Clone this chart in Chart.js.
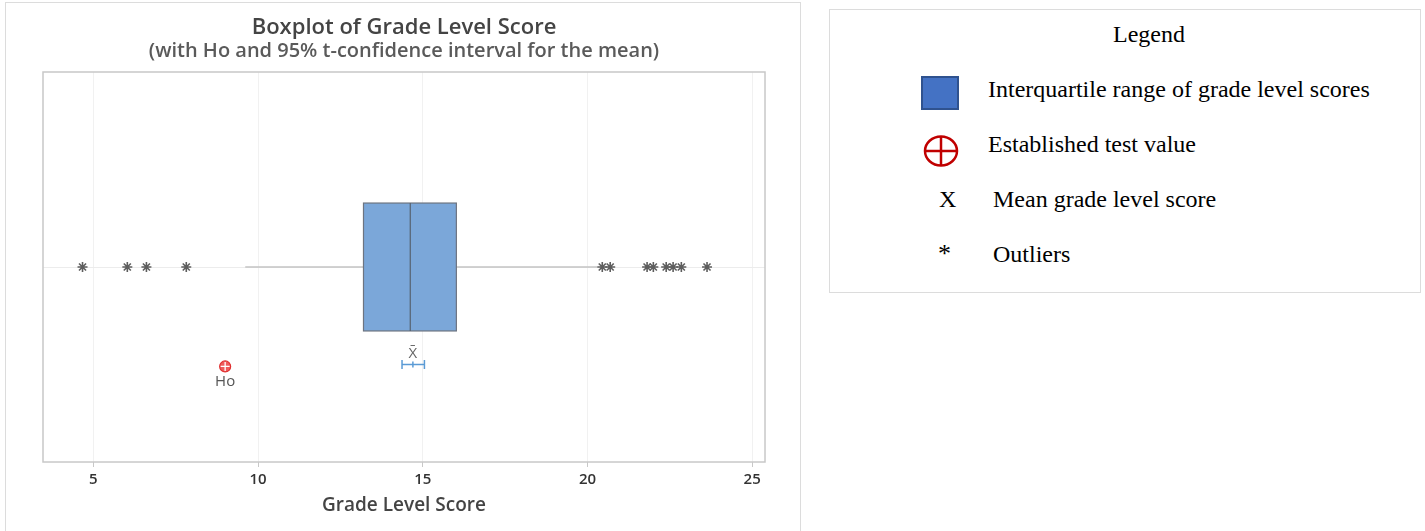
<!DOCTYPE html>
<html>
<head>
<meta charset="utf-8">
<script src="https://cdn.jsdelivr.net/npm/chart.js@4.4.1/dist/chart.umd.min.js"></script>
<style>
  html, body { margin: 0; padding: 0; background: #fff; }
  body { width: 1425px; height: 531px; position: relative; overflow: hidden; }
  #panel { position: absolute; left: 5px; top: 2px; width: 796px; height: 560px; border: 1px solid #dcdcdc; box-sizing: border-box; }
  #wrap { position: absolute; left: 0; top: 0; width: 800px; height: 531px; }
  #legend { position: absolute; left: 829px; top: 9px; width: 592px; height: 284px; border: 1px solid #dcdcdc; box-sizing: border-box;
            font-family: "Liberation Serif", "Times New Roman", serif; font-size: 24px; color: #000; }
  #legend .t { position: absolute; white-space: nowrap; line-height: 28px; }
  #legend svg { position: absolute; }
</style>
</head>
<body>
<div id="panel"></div>
<div id="wrap"><canvas id="c" width="800" height="531"></canvas></div>
<div id="legend">
  <div class="t" style="left:283px; top:10px;">Legend</div>
  <svg style="left:91px; top:66px;" width="38" height="34"><rect x="1" y="1" width="36" height="32" fill="#4472c4" stroke="#2f528f" stroke-width="2"/></svg>
  <div class="t" style="left:158px; top:65px;">Interquartile range of grade level scores</div>
  <svg style="left:93px; top:125px;" width="36" height="32"><ellipse cx="18" cy="16" rx="16" ry="14.5" fill="none" stroke="#c00000" stroke-width="2.5"/><line x1="2" y1="16" x2="34" y2="16" stroke="#c00000" stroke-width="2.5"/><line x1="18" y1="1.5" x2="18" y2="30.5" stroke="#c00000" stroke-width="2.5"/></svg>
  <div class="t" style="left:158px; top:120px;">Established test value</div>
  <div class="t" style="left:109px; top:175px;">X</div>
  <div class="t" style="left:163px; top:175px;">Mean grade level score</div>
  <div class="t" style="left:108px; top:230px; font-size:26px;">*</div>
  <div class="t" style="left:163px; top:230px;">Outliers</div>
</div>
<script>
// Five-number summary: lower whisker end, Q1, median, Q3, upper whisker end
const boxStats = [9.61, 13.2, 14.62, 16.02, 20.3];
// Observations beyond the whiskers
const outliers = [4.67, 6.03, 6.61, 7.82, 20.45, 20.69, 21.81, 22.0, 22.39, 22.6, 22.85, 23.63];
// 95% t-confidence interval for the mean: lower, mean, upper
const meanCI = [14.37, 14.70, 15.05];
// Hypothesised mean (Ho)
const testValue = [9.0];
// X-axis tick labels
const tickValues = [5, 10, 15, 20, 25];

// vertical placement of the elements (hidden y scale runs 0..10)
const BOX_ROW = 5, BOX_HALF = 1.64, CI_ROW = 2.5, HO_ROW = 2.45;

const font = '"Open Sans", "DejaVu Sans", sans-serif';

const boxPlugin = {
  id: 'boxDraw',
  beforeDatasetsDraw(chart) {
    const { ctx, scales: { x, y } } = chart;
    const [lo, q1, med, q3, hi] = boxStats;
    const yc = y.getPixelForValue(BOX_ROW);
    const yt = y.getPixelForValue(BOX_ROW + BOX_HALF);
    const yb = y.getPixelForValue(BOX_ROW - BOX_HALF);
    ctx.save();
    // whiskers
    ctx.strokeStyle = '#c4c4c4';
    ctx.lineWidth = 1.5;
    ctx.beginPath();
    ctx.moveTo(x.getPixelForValue(lo), yc); ctx.lineTo(x.getPixelForValue(q1), yc);
    ctx.moveTo(x.getPixelForValue(q3), yc); ctx.lineTo(x.getPixelForValue(hi), yc);
    ctx.stroke();
    // interquartile box
    const xl = x.getPixelForValue(q1), xr = x.getPixelForValue(q3);
    ctx.fillStyle = '#7ba7d9';
    ctx.fillRect(xl, yt, xr - xl, yb - yt);
    ctx.strokeStyle = '#6d7480';
    ctx.lineWidth = 1.2;
    ctx.strokeRect(xl, yt, xr - xl, yb - yt);
    // median
    const xm = x.getPixelForValue(med);
    ctx.strokeStyle = '#56626f';
    ctx.beginPath(); ctx.moveTo(xm, yt); ctx.lineTo(xm, yb); ctx.stroke();
    ctx.restore();
  },
  afterDatasetsDraw(chart) {
    const { ctx, chartArea: a, scales: { x, y } } = chart;
    ctx.save();
    ctx.fillStyle = '#666';
    ctx.textAlign = 'center';
    ctx.textBaseline = 'middle';
    ctx.font = '15px ' + font;
    ctx.fillText('X\u0304', x.getPixelForValue(meanCI[1]), y.getPixelForValue(CI_ROW + 0.28));
    ctx.fillStyle = '#555';
    ctx.fillText('Ho', x.getPixelForValue(testValue[0]), y.getPixelForValue(HO_ROW - 0.38));
    // plot frame
    ctx.strokeStyle = '#c8c8c8';
    ctx.lineWidth = 1.5;
    ctx.strokeRect(a.left, a.top, a.right - a.left, a.bottom - a.top);
    ctx.restore();
  }
};

new Chart(document.getElementById('c'), {
  type: 'scatter',
  data: {
    datasets: [
      {
        label: 'Outliers',
        data: outliers.map(v => ({ x: v, y: BOX_ROW })),
        pointStyle: 'star',
        pointRadius: 5,
        borderColor: '#5e5e5e',
        backgroundColor: '#5e5e5e',
        pointBorderWidth: 1.6
      },
      {
        label: 'CI',
        type: 'line',
        data: meanCI.map(v => ({ x: v, y: CI_ROW })),
        borderColor: '#5b9bd5',
        borderWidth: 1.5,
        pointStyle: 'line',
        rotation: 90,
        pointRadius: [4.5, 3, 4.5],
        pointBorderColor: '#5b9bd5',
        pointBorderWidth: 1.5
      },
      {
        // white crosshair drawn above the red disc (earlier datasets paint on top)
        label: 'Ho cross',
        data: testValue.map(v => ({ x: v, y: HO_ROW })),
        pointStyle: 'cross',
        pointRadius: 4.5,
        backgroundColor: '#ffffff',
        borderColor: '#ffffff',
        pointBorderColor: '#ffffff',
        pointBorderWidth: 1.3
      },
      {
        label: 'Ho',
        data: testValue.map(v => ({ x: v, y: HO_ROW })),
        pointStyle: 'circle',
        pointRadius: 5.5,
        backgroundColor: '#ee5b5b',
        borderColor: '#e03030',
        pointBorderWidth: 1.2
      }
    ]
  },
  options: {
    responsive: false,
    animation: false,
    events: [],
    layout: { padding: { left: 43, right: 35, bottom: 14, top: 0 } },
    plugins: {
      legend: { display: false },
      tooltip: { enabled: false },
      title: {
        display: true,
        text: 'Boxplot of Grade Level Score',
        color: '#444',
        font: { family: font, size: 22, weight: '600', lineHeight: 1.2 },
        padding: { top: 15, bottom: 0 }
      },
      subtitle: {
        display: true,
        text: '(with Ho and 95% t-confidence interval for the mean)',
        color: '#5a5a5a',
        font: { family: font, size: 20, weight: '600', lineHeight: 1.0 },
        padding: { top: 0, bottom: 10.6 }
      }
    },
    scales: {
      x: {
        type: 'linear',
        min: 3.47,
        max: 25.39,
        afterBuildTicks: s => { s.ticks = tickValues.map(v => ({ value: v })); },
        afterFit: s => { s.height = 55; },
        grid: { color: '#f1f1f1', lineWidth: 1, tickLength: 5, tickColor: '#c8c8c8', drawOnChartArea: true },
        border: { display: false },
        ticks: { color: '#333', font: { family: font, size: 15, weight: '600' }, padding: 4 },
        title: {
          display: true,
          text: 'Grade Level Score',
          color: '#444',
          font: { family: font, size: 19, weight: '600' },
          padding: { top: 2, bottom: 0 }
        }
      },
      y: {
        type: 'linear',
        min: 0,
        max: 10,
        display: true,
        afterBuildTicks: s => { s.ticks = [{ value: BOX_ROW }]; },
        afterFit: s => { s.width = 0; },
        ticks: { display: false },
        grid: { color: '#ececec', drawTicks: false },
        border: { display: false }
      }
    }
  },
  plugins: [boxPlugin]
});
</script>
</body>
</html>
